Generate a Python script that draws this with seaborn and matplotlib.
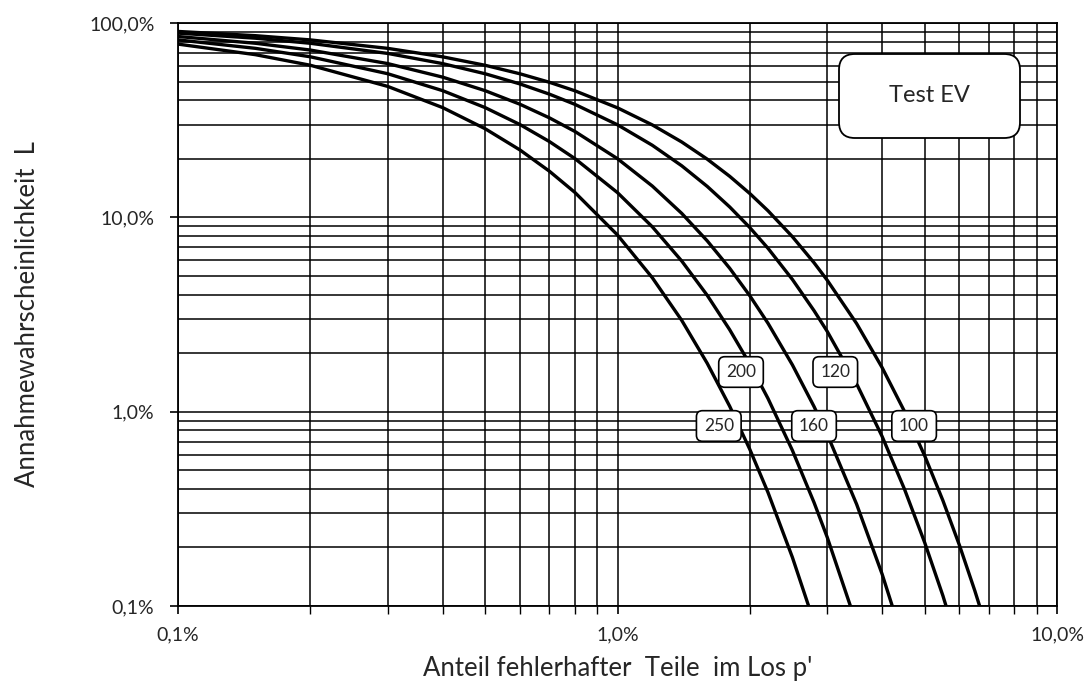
import matplotlib
matplotlib.use("Agg")
import matplotlib.pyplot as plt
from matplotlib.patches import FancyBboxPatch
from matplotlib.ticker import FixedLocator, NullFormatter, LogLocator
import seaborn as sns
import pandas as pd

# ---- data ----
p_values = [0.001, 0.0015, 0.002, 0.003, 0.004, 0.005, 0.006, 0.007, 0.008,
            0.01, 0.012, 0.014, 0.016, 0.018, 0.02, 0.022, 0.025, 0.028,
            0.03, 0.035, 0.04, 0.045, 0.05, 0.055, 0.06, 0.065, 0.07]

L_n100 = [0.9048, 0.8606, 0.8186, 0.7405, 0.6698, 0.6058, 0.5478, 0.4954, 0.4479,
          0.3660, 0.2990, 0.2442, 0.1993, 0.1626, 0.1326, 0.1081, 0.0795, 0.0584,
          0.0475, 0.0284, 0.01687, 0.01001, 0.00593, 0.00349, 0.00205, 0.00120, 0.000705]
L_n120 = [0.8869, 0.8352, 0.7864, 0.6973, 0.6182, 0.5480, 0.4857, 0.4304, 0.3814,
          0.2994, 0.2349, 0.1842, 0.1443, 0.1131, 0.0886, 0.0693, 0.0479, 0.0331,
          0.0259, 0.01391, 0.00746, 0.00398, 0.00212, 0.00113, 0.000596]
L_n160 = [0.8521, 0.7865, 0.7259, 0.6183, 0.5266, 0.4484, 0.3818, 0.3250, 0.2766,
          0.2003, 0.1449, 0.1048, 0.0757, 0.0547, 0.0395, 0.0285, 0.01741, 0.01063,
          0.00765, 0.00334, 0.00146, 0.000632]
L_n200 = [0.8186, 0.7407, 0.6701, 0.5483, 0.4486, 0.3669, 0.3001, 0.2454, 0.2006,
          0.1340, 0.0894, 0.0596, 0.0397, 0.0264, 0.01759, 0.01169, 0.00632, 0.00341,
          0.00226, 0.000804]
L_n250 = [0.7787, 0.6871, 0.6062, 0.4718, 0.3671, 0.2856, 0.2221, 0.1727, 0.1343,
          0.0811, 0.0489, 0.0295, 0.01774, 0.01066, 0.00640, 0.00384, 0.00178, 0.000825]

sample_sizes = ["100", "120", "160", "200", "250"]
curves = [L_n100, L_n120, L_n160, L_n200, L_n250]

# label anchor points (p, L) for the curve tags
label_p = [0.0473, 0.0313, 0.0280, 0.0191, 0.0170]
label_L = [0.00844, 0.0160, 0.00844, 0.0160, 0.00844]

x_ticks = [0.001, 0.01, 0.1]
x_ticklabels = ["0,1%", "1,0%", "10,0%"]
y_ticks = [0.001, 0.01, 0.1, 1.0]
y_ticklabels = ["0,1%", "1,0%", "10,0%", "100,0%"]

x_label = "Anteil fehlerhafter  Teile  im Los p'"
y_label = "Annahmewahrscheinlichkeit  L"
title_box = "Test EV"

# ---- long-form table ----
rows = []
for n, L in zip(sample_sizes, curves):
    for p, l in zip(p_values, L):
        rows.append({"p": p, "L": l, "n": n})
df = pd.DataFrame(rows)

sns.set_theme(style="white")
plt.rcParams["font.family"] = ["Lato", "DejaVu Sans"]

fig = plt.figure(figsize=(10.89, 6.88), dpi=100)
ax = fig.add_axes([178 / 1089, 1 - 606 / 688, 879 / 1089, 583 / 688])

ax.set_xscale("log")
ax.set_yscale("log")
ax.set_xlim(0.001, 0.1)
ax.set_ylim(0.001, 1.0)

# grid
ax.xaxis.set_minor_locator(LogLocator(base=10, subs=range(2, 10)))
ax.yaxis.set_minor_locator(LogLocator(base=10, subs=range(2, 10)))
ax.grid(True, which="both", color="black", linewidth=1.1)
ax.set_axisbelow(True)

sns.lineplot(data=df, x="p", y="L", units="n", estimator=None, color="black",
             linewidth=2.4, ax=ax, legend=False, zorder=3)

ax.xaxis.set_major_locator(FixedLocator(x_ticks))
ax.set_xticklabels(x_ticklabels)
ax.yaxis.set_major_locator(FixedLocator(y_ticks))
ax.set_yticklabels(y_ticklabels)
ax.xaxis.set_minor_formatter(NullFormatter())
ax.yaxis.set_minor_formatter(NullFormatter())

ax.tick_params(axis="x", which="major", direction="out", length=5.5, width=1.2,
               color="black", labelsize=14, pad=9, bottom=True)
ax.tick_params(axis="x", which="minor", direction="out", length=5.5, width=1.0,
               color="black", bottom=True)
ax.tick_params(axis="y", which="major", direction="out", length=6, width=1.2,
               color="black", labelsize=14, pad=11, left=True)
ax.tick_params(axis="y", which="minor", length=0)

for s in ax.spines.values():
    s.set_color("black")
    s.set_linewidth(1.3)

ax.set_xlabel(x_label, fontsize=18.5)
ax.set_ylabel(y_label, fontsize=18.5)
ax.xaxis.set_label_coords(0.5, (606 - 656) / 583)
ax.yaxis.set_label_coords((28 - 178) / 879, 0.5)
ax.yaxis.label.set_va("center")

for txt, px, py in zip(sample_sizes, label_p, label_L):
    ax.text(px, py, txt, ha="center", va="center", fontsize=12.5, zorder=5,
            bbox=dict(boxstyle="round,pad=0.42,rounding_size=0.35",
                      fc="white", ec="black", lw=1.2))

# "Test EV" box
x0 = (839 - 178) / 879
x1 = (1020 - 178) / 879
y0 = (606 - 138) / 583
y1 = (606 - 54) / 583
box = FancyBboxPatch((x0, y0), x1 - x0, y1 - y0, transform=ax.transAxes,
                     boxstyle="round,pad=0,rounding_size=0.018",
                     mutation_aspect=879 / 583, fc="white", ec="black", lw=1.3,
                     zorder=6)
ax.add_patch(box)
ax.text((x0 + x1) / 2, (y0 + y1) / 2, title_box, transform=ax.transAxes,
        ha="center", va="center", fontsize=17, zorder=7)

fig.savefig("out.png", dpi=100)
